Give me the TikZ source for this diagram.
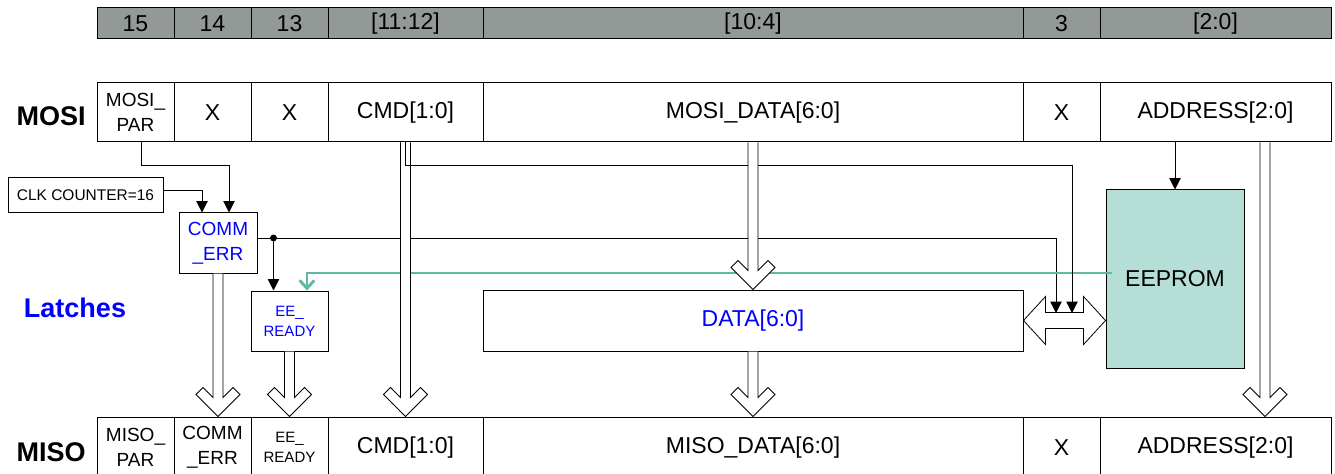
\documentclass[tikz,border=0pt]{standalone}
\usepackage{fontspec}
\setmainfont{Liberation Sans}
\usetikzlibrary{positioning}
\usetikzlibrary{arrows.meta}
\usetikzlibrary{calc}

\definecolor{bargray}{RGB}{147,153,151}
\definecolor{eegreen}{RGB}{181,222,214}
\definecolor{eeteal}{RGB}{96,186,162}
\definecolor{latchblue}{RGB}{0,0,255}

\tikzset{
  cell/.style={draw, line width=0.75pt, inner sep=0pt, align=center, minimum height=44.25pt},
  bitcell/.style={cell, fill=bargray, minimum height=23.25pt},
  txtbig/.style={font=\fontsize{17.25}{20}\selectfont},
  txtmid/.style={font=\fontsize{14.25}{18.75}\selectfont},
  txtsml/.style={font=\fontsize{11.25}{15}\selectfont},
  rowlabel/.style={font=\bfseries\fontsize{20.25}{24}\selectfont, inner sep=0pt},
  latch/.style={draw, line width=0.75pt, inner sep=0pt, align=center, text=latchblue},
  sig/.style={draw, line width=0.75pt, -{Triangle[length=8.5pt,width=8.5pt]}},
  tealsig/.style={draw=eeteal, line width=1.5pt, -{Straight Barb[length=6pt,width=11pt,line width=2.2pt]}},
  busline/.style={draw=black, fill=white, line width=0.6pt},
}

% hollow bus arrow, top point #1 down to tip level #2
\newcommand{\busdown}[2]{%
  \path[busline] let \p1=#1, \p2=#2 in
    (\x1-3.75pt,\y1) -- (\x1-3.75pt,\y2+14.25pt) -- (\x1-11.25pt,\y2+21.75pt)
    -- (\x1-16.5pt,\y2+16.5pt) -- (\x1,\y2) -- (\x1+16.5pt,\y2+16.5pt)
    -- (\x1+11.25pt,\y2+21.75pt) -- (\x1+3.75pt,\y2+14.25pt) -- (\x1+3.75pt,\y1);
}

\begin{document}
\begin{tikzpicture}[x=0.75pt,y=-0.75pt]
  \useasboundingbox (0,0) rectangle (1335,474);
  \clip (0,0) rectangle (1335,474);

  % bit numbers
  \foreach \nm/\xa/\xb/\txt in {t15/97/174/15, t14/174/251/14, t13/251/328/13,
      tcmd/328/483/{[11:12]}, tdata/483/1023/{[10:4]}, t3/1023/1100/3, taddr/1100/1331/{[2:0]}}
    \node[bitcell, txtbig, minimum width={(\xb-\xa)*0.75pt}] (\nm) at ({(\xa+\xb)/2},23.5) {\txt};

  % MOSI frame
  \foreach \nm/\xa/\xb/\fs/\txt in {mpar/97/174/txtmid/{MOSI\_\\PAR}, mx14/174/251/txtbig/X,
      mx13/251/328/txtbig/X, mcmd/328/483/txtbig/{CMD[1:0]}, mdata/483/1023/txtbig/{MOSI\_DATA[6:0]},
      mx3/1023/1100/txtbig/X, maddr/1100/1331/txtbig/{ADDRESS[2:0]}}
    \node[cell, \fs, minimum width={(\xb-\xa)*0.75pt}] (\nm) at ({(\xa+\xb)/2},112.5) {\txt};

  % MISO frame
  \foreach \nm/\xa/\xb/\fs/\txt in {spar/97/174/txtmid/{MISO\_\\PAR}, scomm/174/251/txtmid/{COMM\\\_ERR},
      sready/251/328/txtsml/{EE\_\\READY}, scmd/328/483/txtbig/{CMD[1:0]}, sdata/483/1023/txtbig/{MISO\_DATA[6:0]},
      sx3/1023/1100/txtbig/X, saddr/1100/1331/txtbig/{ADDRESS[2:0]}}
    \node[cell, \fs, minimum width={(\xb-\xa)*0.75pt}, minimum height=45.75pt] (\nm) at ({(\xa+\xb)/2},447.5) {\txt};

  \node[rowlabel, left=8pt of mpar, yshift=-2.5pt] (lmosi) {MOSI};
  \node[rowlabel, left=8pt of spar, yshift=-3.4pt] (lmiso) {MISO};
  \node[rowlabel, text=latchblue] (llatch) at (75,307.5) {Latches};

  % latches and blocks
  \node[draw, line width=0.75pt, inner sep=0pt, minimum width=116.25pt, minimum height=26.25pt,
        font=\fontsize{11.6}{14}\selectfont] (clk) at (85.5,195.5) {CLK COUNTER=16};
  \node[latch, txtmid, minimum width=58.5pt, minimum height=45pt] (comm) at (218,243) {COMM\\\_ERR};
  \node[latch, txtsml, minimum width=57.75pt, minimum height=45pt] (ee) at (289.5,321) {EE\_\\READY};
  \node[latch, txtbig, minimum width=405pt, minimum height=45.75pt] (data) at (753,320.5) {DATA[6:0]};
  \node[draw, line width=0.75pt, fill=eegreen, inner sep=0pt, minimum width=103.5pt,
        minimum height=133.5pt, txtbig] (eeprom) at (1175,279) {EEPROM};

  \coordinate (cj) at ([xshift=12pt,yshift=3.75pt]comm.east);
  \coordinate (dbl1) at (1056,313);
  \coordinate (dbl2) at (1072,313);

  % control lines
  \draw[sig] ([xshift=4.5pt]mpar.south) -- ++(0,23) -| ([xshift=8.25pt]comm.north);
  \draw[sig] ([yshift=4.1pt]clk.east) -| ([xshift=-12pt]comm.north);
  \draw[line width=0.75pt] ([yshift=3.75pt]comm.east) -- (cj);
  \draw[sig] (cj) -| (dbl1);
  \draw[sig] (cj) -- (cj |- ee.north);
  \fill (cj) circle (2.6pt);
  \draw[tealsig] ([xshift=4.5pt,yshift=4.5pt]eeprom.west) -| ([xshift=13.1pt]ee.north);
  \draw[sig] (maddr.south -| eeprom.north) -- (eeprom.north);

  % buses
  \busdown{(mcmd.south)}{(scmd.north)}
  \draw[sig] (mcmd.south) -- ++(0,23) -| (dbl2);
  \busdown{(mdata.south)}{(data.north)}
  \busdown{(data.south)}{(sdata.north)}
  \busdown{([xshift=37.1pt]maddr.south)}{(saddr.north)}
  \busdown{(comm.south)}{(scomm.north)}
  \busdown{(ee.south)}{(sready.north)}

  % data <-> eeprom
  \path[busline] let \p1=(data.east), \p2=(data.east -| eeprom.west) in
    (\p1) -- (\x1+16.5pt,\y1+18pt) -- (\x1+16.5pt,\y1+6pt) -- (\x2-16.5pt,\y1+6pt)
    -- (\x2-16.5pt,\y1+18pt) -- (\p2) -- (\x2-16.5pt,\y1-18pt) -- (\x2-16.5pt,\y1-6pt)
    -- (\x1+16.5pt,\y1-6pt) -- (\x1+16.5pt,\y1-18pt) -- cycle;
\end{tikzpicture}
\end{document}
